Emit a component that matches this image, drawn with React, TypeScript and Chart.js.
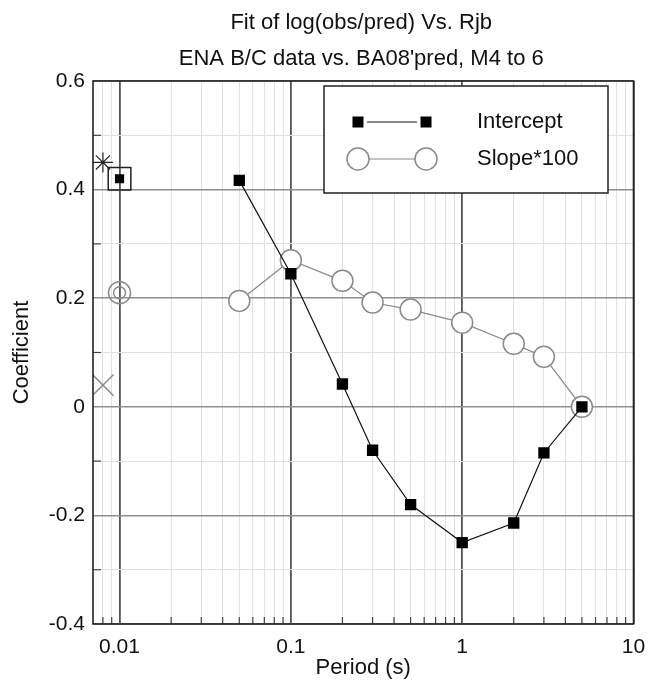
import React, { useEffect, useRef } from 'react';
import { Chart, registerables } from 'chart.js';

Chart.register(...registerables);

const titleLines = ['Fit of log(obs/pred) Vs. Rjb', "ENA B/C data vs. BA08'pred, M4 to 6"];
const xAxisTitle = 'Period (s)';
const yAxisTitle = 'Coefficient';
const legendLabels = ['Intercept', 'Slope*100'];

const periods = [0.05, 0.1, 0.2, 0.3, 0.5, 1, 2, 3, 5];
const intercept = [0.417, 0.245, 0.042, -0.08, -0.18, -0.25, -0.214, -0.085, 0.0];
const slope100 = [0.195, 0.27, 0.232, 0.192, 0.179, 0.155, 0.116, 0.092, 0.0];

const pgaPeriod = [0.01];
const interceptPGA = [0.42];
const slopePGA = [0.21];

const extraPeriod = [0.008];
const starValue = [0.45];
const crossValue = [0.04];

const xTickValues = [
  0.008, 0.009, 0.01, 0.02, 0.03, 0.04, 0.05, 0.06, 0.07, 0.08, 0.09,
  0.1, 0.2, 0.3, 0.4, 0.5, 0.6, 0.7, 0.8, 0.9,
  1, 2, 3, 4, 5, 6, 7, 8, 9, 10,
];
const xLabelValues = [0.01, 0.1, 1, 10];
const yTickValues = [-0.4, -0.3, -0.2, -0.1, 0, 0.1, 0.2, 0.3, 0.4, 0.5, 0.6];

const FONT = '"Liberation Sans", Arial, Helvetica, sans-serif';
const FONT_SIZE = 22;
const TICK_SIZE = 21;
const TEXT = '#111';
const GRAY = '#8a8a8a';

const isMajorX = (v: number) => xLabelValues.some((m) => Math.abs(m - v) < 1e-9);
const isMajorY = (v: number) => Math.round(v * 10) % 2 === 0;

const decorPlugin = {
  id: 'decor',
  beforeDraw(chart: any) {
    const ctx = chart.ctx;
    ctx.save();
    ctx.fillStyle = '#fff';
    ctx.fillRect(0, 0, chart.width, chart.height);
    ctx.restore();
  },
  afterDraw(chart: any) {
    const ctx = chart.ctx;
    const { left, right, top, bottom } = chart.chartArea;
    const xs = chart.scales.x;
    const ys = chart.scales.y;
    ctx.save();

    // inward ticks
    ctx.strokeStyle = '#444';
    ctx.lineWidth = 1.2;
    xTickValues.forEach((v) => {
      if (isMajorX(v)) return;
      const px = xs.getPixelForValue(v);
      ctx.beginPath();
      ctx.moveTo(px, bottom);
      ctx.lineTo(px, bottom - 7);
      ctx.stroke();
    });
    yTickValues.forEach((v) => {
      if (isMajorY(v)) return;
      const py = ys.getPixelForValue(v);
      ctx.beginPath();
      ctx.moveTo(left, py);
      ctx.lineTo(left + 8, py);
      ctx.stroke();
    });

    // frame
    ctx.strokeStyle = '#222';
    ctx.lineWidth = 1.6;
    ctx.strokeRect(left, top, right - left, bottom - top);

    // legend
    const lx = left + 231;
    const ly = top + 5;
    const lw = 284;
    const lh = 107;
    ctx.fillStyle = '#fff';
    ctx.fillRect(lx, ly, lw, lh);
    ctx.strokeStyle = '#222';
    ctx.lineWidth = 1.5;
    ctx.strokeRect(lx, ly, lw, lh);

    const m1 = lx + 34;
    const m2 = lx + 102;
    const r1 = ly + 36;
    const r2 = ly + 73;
    // intercept entry
    ctx.strokeStyle = '#111';
    ctx.lineWidth = 1.2;
    ctx.beginPath();
    ctx.moveTo(m1 + 9, r1);
    ctx.lineTo(m2 - 9, r1);
    ctx.stroke();
    ctx.fillStyle = '#000';
    ctx.fillRect(m1 - 5.5, r1 - 5.5, 11, 11);
    ctx.fillRect(m2 - 5.5, r1 - 5.5, 11, 11);
    // slope entry
    ctx.strokeStyle = GRAY;
    ctx.lineWidth = 1.2;
    ctx.beginPath();
    ctx.moveTo(m1 + 11, r2);
    ctx.lineTo(m2 - 11, r2);
    ctx.stroke();
    ctx.lineWidth = 1.5;
    [m1, m2].forEach((cx) => {
      ctx.beginPath();
      ctx.arc(cx, r2, 11, 0, Math.PI * 2);
      ctx.stroke();
    });

    ctx.fillStyle = TEXT;
    ctx.font = `${FONT_SIZE}px ${FONT}`;
    ctx.textAlign = 'left';
    ctx.textBaseline = 'middle';
    ctx.fillText(legendLabels[0], lx + 153, r1);
    ctx.fillText(legendLabels[1], lx + 153, r2);

    // titles
    const cx = (left + right) / 2;
    ctx.textAlign = 'center';
    ctx.fillText(titleLines[0], cx - 2, 23);
    ctx.fillText(titleLines[1], cx - 2, 59);
    ctx.fillText(xAxisTitle, cx, 668);

    ctx.translate(22, (top + bottom) / 2);
    ctx.rotate(-Math.PI / 2);
    ctx.fillText(yAxisTitle, 0, 0);

    ctx.restore();
  },
};

export default function App() {
  const ref = useRef<HTMLCanvasElement>(null);

  useEffect(() => {
    const canvas = ref.current;
    if (!canvas) return;
    const pts = (xs: number[], ys: number[]) => xs.map((x, i) => ({ x, y: ys[i] }));

    const chart = new Chart(canvas, {
      type: 'line',
      data: {
        datasets: [
          {
            label: legendLabels[0],
            data: pts(periods, intercept),
            borderColor: '#111',
            borderWidth: 1.2,
            pointStyle: 'rect',
            pointRadius: 8,
            pointBackgroundColor: '#000',
            pointBorderColor: '#000',
            pointBorderWidth: 0,
            showLine: true,
            tension: 0,
          },
          {
            label: 'Intercept PGA',
            data: pts(pgaPeriod, interceptPGA),
            showLine: false,
            pointStyle: 'rect',
            pointRadius: 6.5,
            pointBackgroundColor: '#000',
            pointBorderColor: '#000',
            pointBorderWidth: 0,
          },
          {
            label: 'Intercept PGA box',
            data: pts(pgaPeriod, interceptPGA),
            showLine: false,
            pointStyle: 'rect',
            pointRadius: 16,
            pointBackgroundColor: 'rgba(0,0,0,0)',
            pointBorderColor: '#222',
            pointBorderWidth: 1.5,
          },
          {
            label: legendLabels[1],
            data: pts(periods, slope100),
            borderColor: GRAY,
            borderWidth: 1.2,
            pointStyle: 'circle',
            pointRadius: 10.5,
            pointBackgroundColor: '#fff',
            pointBorderColor: GRAY,
            pointBorderWidth: 1.5,
            showLine: true,
            tension: 0,
          },
          {
            label: 'Slope PGA outer',
            data: pts(pgaPeriod, slopePGA),
            showLine: false,
            pointStyle: 'circle',
            pointRadius: 11,
            pointBackgroundColor: 'rgba(0,0,0,0)',
            pointBorderColor: GRAY,
            pointBorderWidth: 1.5,
          },
          {
            label: 'Slope PGA inner',
            data: pts(pgaPeriod, slopePGA),
            showLine: false,
            pointStyle: 'circle',
            pointRadius: 6,
            pointBackgroundColor: 'rgba(0,0,0,0)',
            pointBorderColor: GRAY,
            pointBorderWidth: 1.5,
          },
          {
            label: 'Star',
            data: pts(extraPeriod, starValue),
            showLine: false,
            pointStyle: 'star',
            pointRadius: 10,
            pointBorderColor: '#222',
            pointBorderWidth: 1.2,
          },
          {
            label: 'Cross',
            data: pts(extraPeriod, crossValue),
            showLine: false,
            pointStyle: 'crossRot',
            pointRadius: 15,
            pointBorderColor: GRAY,
            pointBorderWidth: 1.5,
          },
        ],
      },
      options: {
        responsive: false,
        animation: false,
        events: [],
        layout: { padding: { top: 81, right: 15, left: 0, bottom: 0 } },
        plugins: {
          legend: { display: false },
          tooltip: { enabled: false },
          title: { display: false },
        },
        scales: {
          x: {
            type: 'logarithmic',
            min: 0.007,
            max: 10,
            afterBuildTicks: (s: any) => {
              s.ticks = xTickValues.map((v) => ({ value: v }));
            },
            afterFit: (s: any) => {
              s.height = 61;
              s.paddingLeft = 0;
              s.paddingRight = 0;
            },
            ticks: {
              autoSkip: false,
              maxRotation: 0,
              minRotation: 0,
              padding: 11,
              color: TEXT,
              font: { family: FONT, size: TICK_SIZE },
              callback: (v: any) => (isMajorX(Number(v)) ? String(v) : ''),
            },
            grid: {
              drawTicks: false,
              color: (c: any) => (c.tick && isMajorX(c.tick.value) ? '#555' : '#e0e0e0'),
              lineWidth: (c: any) => (c.tick && isMajorX(c.tick.value) ? 1.8 : 1),
            },
            border: { display: false },
          },
          y: {
            type: 'linear',
            min: -0.4,
            max: 0.6,
            afterBuildTicks: (s: any) => {
              s.ticks = yTickValues.map((v) => ({ value: v }));
            },
            afterFit: (s: any) => {
              s.width = 93;
              s.paddingTop = 0;
              s.paddingBottom = 0;
            },
            ticks: {
              padding: 8,
              color: TEXT,
              font: { family: FONT, size: TICK_SIZE },
              callback: (v: any) => {
                const k = Math.round(Number(v) * 10);
                return k % 2 === 0 ? String(k / 10) : '';
              },
            },
            grid: {
              drawTicks: false,
              color: (c: any) => (c.tick && isMajorY(c.tick.value) ? '#8f8f8f' : '#e0e0e0'),
              lineWidth: (c: any) => (c.tick && isMajorY(c.tick.value) ? 1.6 : 1),
            },
            border: { display: false },
          },
        },
      },
      plugins: [decorPlugin],
    } as any);

    return () => chart.destroy();
  }, []);

  return (
    <div style={{ position: 'absolute', left: 0, top: 0, width: 651, height: 685, background: '#fff' }}>
      <canvas ref={ref} width={651} height={685} style={{ display: 'block', width: 651, height: 685 }} />
    </div>
  );
}
